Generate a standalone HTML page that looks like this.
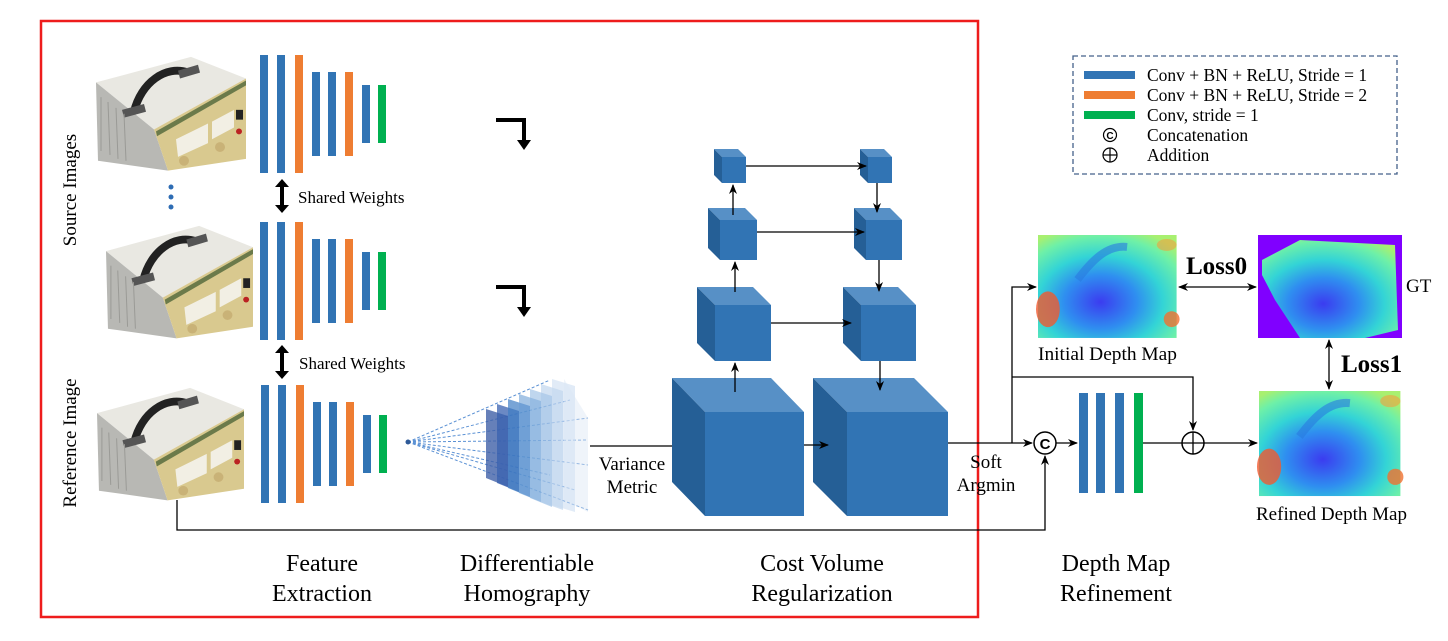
<!DOCTYPE html>
<html><head><meta charset="utf-8"><style>
html,body{margin:0;padding:0;background:#fff;}
svg{display:block;}
text{font-family:"Liberation Serif",serif;fill:#000;}
</style></head><body>
<svg width="1448" height="641" viewBox="0 0 1448 641" xmlns="http://www.w3.org/2000/svg">
<defs>
<marker id="ah" markerWidth="10" markerHeight="8" refX="9" refY="4" orient="auto" markerUnits="userSpaceOnUse">
<path d="M0,0 L10,4 L0,8 L3,4 Z" fill="#000"/></marker>
<marker id="ahs" markerWidth="10" markerHeight="8" refX="1" refY="4" orient="auto" markerUnits="userSpaceOnUse">
<path d="M10,0 L0,4 L10,8 L7,4 Z" fill="#000"/></marker>
<g id="dev">
<polygon points="0,30 95,4 150,26 58,78" fill="#e9e8e2"/>
<polygon points="0,30 58,78 72,120 2,110" fill="#b8b8b4"/>
<polygon points="58,78 150,26 150,108 72,120" fill="#d9c98f"/>
<polygon points="80,88 112,72 112,92 82,106" fill="#f2efe4"/>
<polygon points="116,70 138,58 138,76 116,88" fill="#f2efe4"/>
<polygon points="60,80 150,28 150,33 61,85" fill="#6b7a4a"/>
<path d="M38,60 C45,30 70,12 92,20" stroke="#222" stroke-width="8" fill="none"/>
<polygon points="26,58 48,52 50,60 28,66" fill="#555"/>
<polygon points="82,18 102,12 104,20 84,26" fill="#555"/>
<circle cx="88" cy="110" r="5" fill="#c9b277"/>
<circle cx="124" cy="96" r="5" fill="#c9b277"/>
<rect x="140" y="58" width="7" height="10" fill="#222"/>
<circle cx="143" cy="80" r="3" fill="#b22"/>
<path d="M5,45 L5,100 M12,50 L14,104 M20,56 L22,108 M28,62 L30,110" stroke="#9a9a96" stroke-width="1"/>
</g>
<radialGradient id="dg" cx="0.45" cy="0.65" r="0.75">
<stop offset="0" stop-color="#3b3cf0"/><stop offset="0.35" stop-color="#2f8ef0"/>
<stop offset="0.6" stop-color="#33d4d6"/><stop offset="0.85" stop-color="#6ef0a8"/><stop offset="1" stop-color="#a8f070"/></radialGradient>
<g id="dmap">
<rect width="140" height="104" fill="url(#dg)"/>
<ellipse cx="10" cy="75" rx="12" ry="18" fill="#f05a30" opacity="0.8"/>
<ellipse cx="135" cy="85" rx="8" ry="8" fill="#f07030" opacity="0.8"/>
<ellipse cx="130" cy="10" rx="10" ry="6" fill="#f0a040" opacity="0.6"/>
<path d="M40,45 C55,25 70,10 90,12" stroke="#2a7ae0" stroke-width="8" fill="none" opacity="0.6"/>
</g>
</defs>

<rect x="41" y="21" width="937" height="596" fill="none" stroke="#ee1c1c" stroke-width="2.5"/>

<text transform="translate(76,190) rotate(-90)" font-size="19" text-anchor="middle">Source Images</text>
<text transform="translate(76,443) rotate(-90)" font-size="19" text-anchor="middle">Reference Image</text>

<use href="#dev" transform="translate(96,53) scale(1,0.98)"/>
<use href="#dev" transform="translate(106,222) scale(0.98,0.97)"/>
<use href="#dev" transform="translate(97,384) scale(0.98,0.97)"/>
<circle cx="171" cy="187" r="2.5" fill="#2e6db4"/>
<circle cx="171" cy="197" r="2.5" fill="#2e6db4"/>
<circle cx="171" cy="207" r="2.5" fill="#2e6db4"/>

<g id="bars1">
<rect x="260" y="55" width="8" height="118" fill="#3174b4"/>
<rect x="277" y="55" width="8" height="118" fill="#3174b4"/>
<rect x="295" y="55" width="8" height="118" fill="#ee7d32"/>
<rect x="312" y="72" width="8" height="84" fill="#3174b4"/>
<rect x="328" y="72" width="8" height="84" fill="#3174b4"/>
<rect x="345" y="72" width="8" height="84" fill="#ee7d32"/>
<rect x="362" y="85" width="8" height="58" fill="#3174b4"/>
<rect x="378" y="85" width="8" height="58" fill="#00b050"/>
</g>
<use href="#bars1" transform="translate(0,167)"/>
<use href="#bars1" transform="translate(1,330)"/>

<g>
<line x1="282" y1="186" x2="282" y2="206" stroke="#000" stroke-width="4"/>
<polygon points="275,187 289,187 282,179" fill="#000"/>
<polygon points="275,205 289,205 282,213" fill="#000"/>
<text x="298" y="203" font-size="17">Shared Weights</text>
</g>
<g>
<line x1="282" y1="352" x2="282" y2="372" stroke="#000" stroke-width="4"/>
<polygon points="275,353 289,353 282,345" fill="#000"/>
<polygon points="275,371 289,371 282,379" fill="#000"/>
<text x="299" y="369" font-size="17">Shared Weights</text>
</g>

<g fill="none" stroke="#000" stroke-width="4">
<path d="M496,120 L524,120 L524,142"/>
<path d="M496,287 L524,287 L524,309"/>
</g>
<polygon points="517,140 531,140 524,150" fill="#000"/>
<polygon points="517,307 531,307 524,317" fill="#000"/>

<g stroke="#4a86d0" stroke-width="1" stroke-dasharray="3,2" fill="none" opacity="0.9">
<line x1="408" y1="442" x2="550" y2="380"/><line x1="408" y1="442" x2="588" y2="418"/>
<line x1="408" y1="442" x2="588" y2="440"/><line x1="408" y1="442" x2="588" y2="465"/>
<line x1="408" y1="442" x2="588" y2="510"/><line x1="408" y1="442" x2="550" y2="475"/>
<line x1="408" y1="442" x2="570" y2="400"/><line x1="408" y1="442" x2="575" y2="490"/>
</g>
<g>
<polygon points="486,409 508,416 508,487 486,478" fill="#4060a8" opacity="0.8"/>
<polygon points="497,404 519,411 519,492 497,483" fill="#3a62b0" opacity="0.75"/>
<polygon points="508,399 530,406 530,497 508,488" fill="#3f7ec4" opacity="0.7"/>
<polygon points="519,394 541,401 541,502 519,493" fill="#6b9fd6" opacity="0.6"/>
<polygon points="530,389 552,396 552,507 530,498" fill="#8ab4e0" opacity="0.55"/>
<polygon points="541,384 563,391 563,510 541,502" fill="#a8c6e8" opacity="0.5"/>
<polygon points="552,379 575,386 575,512 552,505" fill="#c4d8ef" opacity="0.5"/>
<polygon points="564,379 588,418 588,512 564,500" fill="#dbe6f4" opacity="0.45"/>
</g>
<circle cx="408" cy="442" r="2.5" fill="#2e5a98"/>

<line x1="590" y1="446" x2="686" y2="446" stroke="#000" stroke-width="1.3" marker-end="url(#ah)"/>
<text x="632" y="470" font-size="19" text-anchor="middle">Variance</text>
<text x="632" y="493" font-size="19" text-anchor="middle">Metric</text>

<g>
<polygon points="672,378 771,378 804,412 705,412" fill="#5790c6"/>
<polygon points="672,378 705,412 705,516 672,482" fill="#255f96"/>
<rect x="705" y="412" width="99" height="104" fill="#3174b4"/>
<polygon points="813,378 914,378 948,412 847,412" fill="#5790c6"/>
<polygon points="813,378 847,412 847,516 813,482" fill="#255f96"/>
<rect x="847" y="412" width="101" height="104" fill="#3174b4"/>
<polygon points="697,287 753,287 771,305 715,305" fill="#5790c6"/>
<polygon points="697,287 715,305 715,361 697,343" fill="#255f96"/>
<rect x="715" y="305" width="56" height="56" fill="#3174b4"/>
<polygon points="843,287 898,287 916,305 861,305" fill="#5790c6"/>
<polygon points="843,287 861,305 861,361 843,343" fill="#255f96"/>
<rect x="861" y="305" width="55" height="56" fill="#3174b4"/>
<polygon points="708,208 745,208 757,220 720,220" fill="#5790c6"/>
<polygon points="708,208 720,220 720,260 708,248" fill="#255f96"/>
<rect x="720" y="220" width="37" height="40" fill="#3174b4"/>
<polygon points="854,208 890,208 902,220 866,220" fill="#5790c6"/>
<polygon points="854,208 866,220 866,260 854,248" fill="#255f96"/>
<rect x="866" y="220" width="36" height="40" fill="#3174b4"/>
<polygon points="714,149 738,149 746,157 722,157" fill="#5790c6"/>
<polygon points="714,149 722,157 722,183 714,175" fill="#255f96"/>
<rect x="722" y="157" width="24" height="26" fill="#3174b4"/>
<polygon points="860,149 884,149 892,157 868,157" fill="#5790c6"/>
<polygon points="860,149 868,157 868,183 860,175" fill="#255f96"/>
<rect x="868" y="157" width="24" height="26" fill="#3174b4"/>
</g>
<g stroke="#000" stroke-width="1.3" fill="none">
<line x1="735" y1="392" x2="735" y2="363" marker-end="url(#ah)"/>
<line x1="735" y1="292" x2="735" y2="262" marker-end="url(#ah)"/>
<line x1="733" y1="215" x2="733" y2="185" marker-end="url(#ah)"/>
<line x1="746" y1="166" x2="866" y2="166" marker-end="url(#ah)"/>
<line x1="757" y1="232" x2="864" y2="232" marker-end="url(#ah)"/>
<line x1="771" y1="323" x2="851" y2="323" marker-end="url(#ah)"/>
<line x1="877" y1="183" x2="877" y2="212" marker-end="url(#ah)"/>
<line x1="879" y1="260" x2="879" y2="291" marker-end="url(#ah)"/>
<line x1="880" y1="361" x2="880" y2="390" marker-end="url(#ah)"/>
<line x1="804" y1="445" x2="828" y2="445" marker-end="url(#ah)"/>
</g>
<text x="986" y="468" font-size="19" text-anchor="middle">Soft</text>
<text x="986" y="491" font-size="19" text-anchor="middle">Argmin</text>

<g stroke="#000" stroke-width="1.3" fill="none">
<line x1="948" y1="443" x2="1032" y2="443" marker-end="url(#ah)"/>
<polyline points="1012,443 1012,287 1036,287" marker-end="url(#ah)"/>
<polyline points="1012,377 1193,377 1193,430" marker-end="url(#ah)"/>
<polyline points="177,500 177,530 1045,530 1045,456" marker-end="url(#ah)"/>
<line x1="1056" y1="443" x2="1077" y2="443" marker-end="url(#ah)"/>
<line x1="1143" y1="443" x2="1182" y2="443"/>
<line x1="1204" y1="443" x2="1257" y2="443" marker-end="url(#ah)"/>
<line x1="1179" y1="287" x2="1256" y2="287" marker-start="url(#ahs)" marker-end="url(#ah)"/>
<line x1="1329" y1="340" x2="1329" y2="389" marker-start="url(#ahs)" marker-end="url(#ah)"/>
</g>
<circle cx="1045" cy="443" r="11" fill="#fff" stroke="#000" stroke-width="1.5"/>
<text x="1045" y="449" font-size="15" font-weight="bold" text-anchor="middle" style="font-family:'Liberation Sans',sans-serif">C</text>
<circle cx="1193" cy="443" r="11" fill="#fff" stroke="#000" stroke-width="1.5"/>
<line x1="1182" y1="443" x2="1204" y2="443" stroke="#000" stroke-width="1.3"/>
<line x1="1193" y1="432" x2="1193" y2="454" stroke="#000" stroke-width="1.3"/>
<rect x="1079" y="393" width="9" height="100" fill="#3174b4"/>
<rect x="1096" y="393" width="9" height="100" fill="#3174b4"/>
<rect x="1115" y="393" width="9" height="100" fill="#3174b4"/>
<rect x="1134" y="393" width="9" height="100" fill="#00b050"/>

<use href="#dmap" transform="translate(1038,235) scale(0.99,0.99)"/>
<use href="#dmap" transform="translate(1259,391) scale(1.01,1.01)"/>
<rect x="1258" y="235" width="144" height="103" fill="#8000ff"/>
<polygon points="1262,260 1300,240 1395,245 1398,330 1365,338 1300,338 1275,300 1262,275" fill="url(#dg)"/>
<text x="1038" y="360" font-size="19" textLength="139" lengthAdjust="spacingAndGlyphs">Initial Depth Map</text>
<text x="1256" y="520" font-size="19" textLength="151" lengthAdjust="spacingAndGlyphs">Refined Depth Map</text>
<text x="1406" y="292" font-size="19">GT</text>
<text x="1186" y="274" font-size="25" font-weight="bold">Loss0</text>
<text x="1341" y="372" font-size="25" font-weight="bold">Loss1</text>

<rect x="1073" y="56" width="324" height="118" fill="none" stroke="#44618a" stroke-width="1.3" stroke-dasharray="5,3"/>
<rect x="1084" y="71" width="51" height="8" fill="#3174b4"/>
<rect x="1084" y="91" width="51" height="8" fill="#ee7d32"/>
<rect x="1084" y="111" width="51" height="8" fill="#00b050"/>
<g font-size="17.5">
<text x="1147" y="81">Conv + BN + ReLU, Stride = 1</text>
<text x="1147" y="101">Conv + BN + ReLU, Stride = 2</text>
<text x="1147" y="121">Conv, stride = 1</text>
<text x="1147" y="141">Concatenation</text>
<text x="1147" y="161">Addition</text>
</g>
<circle cx="1110" cy="135" r="6.5" fill="none" stroke="#000" stroke-width="1.2"/>
<text x="1110" y="139" font-size="10" font-weight="bold" text-anchor="middle" style="font-family:'Liberation Sans',sans-serif">C</text>
<circle cx="1110" cy="155" r="7" fill="none" stroke="#000" stroke-width="1.2"/>
<line x1="1103" y1="155" x2="1117" y2="155" stroke="#000" stroke-width="1.2"/>
<line x1="1110" y1="148" x2="1110" y2="162" stroke="#000" stroke-width="1.2"/>

<g font-size="24" text-anchor="middle">
<text x="322" y="571">Feature</text><text x="322" y="601">Extraction</text>
<text x="527" y="571">Differentiable</text><text x="527" y="601">Homography</text>
<text x="822" y="571">Cost Volume</text><text x="822" y="601">Regularization</text>
<text x="1116" y="571">Depth Map</text><text x="1116" y="601">Refinement</text>
</g>
</svg>
</body></html>
